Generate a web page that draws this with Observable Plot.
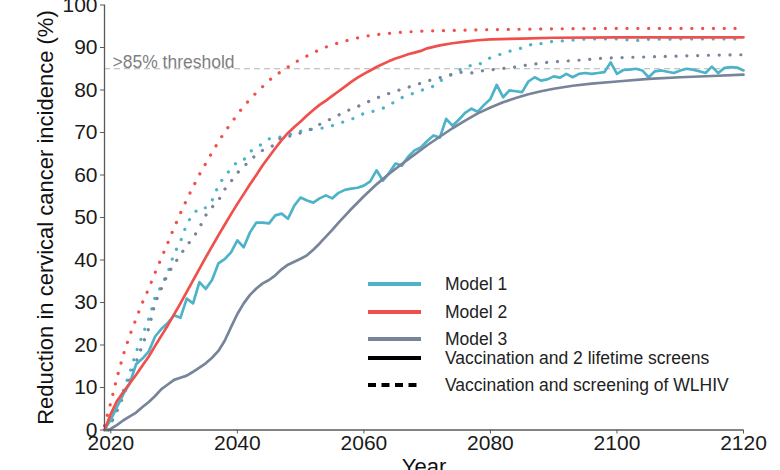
<!DOCTYPE html>
<html><head><meta charset="utf-8">
<script src="https://cdn.jsdelivr.net/npm/d3@7"></script>
<script src="https://cdn.jsdelivr.net/npm/@observablehq/plot@0.6"></script>
<style>
body{margin:0;background:#fff;}
#wrap{position:relative;width:780px;height:470px;overflow:hidden;background:#fff;}
#legend{position:absolute;left:0;top:0;pointer-events:none;}
</style></head><body><div id="wrap"></div>
<script>
// ---- tick labels ----
const xTicks = [2020, 2040, 2060, 2080, 2100, 2120];
const yTicks = [0, 10, 20, 30, 40, 50, 60, 70, 80, 90, 100];
const thresholdValue = 85;
const thresholdLabel = ">85% threshold";
const xLabel = "Year";
const yLabel = "Reduction in cervical cancer incidence (%)";

// ---- legend ----
const modelNames = ["Model 1", "Model 2", "Model 3"];
const modelColors = ["#4DB3C9", "#F0504C", "#77849A"];
const strategyNames = ["Vaccination and 2 lifetime screens", "Vaccination and screening of WLHIV"];

// ---- series: [year, reduction %] ----
// Model 1, vaccination + 2 lifetime screens
const model1Screens = [[2019,0],[2020,2.5],[2021,5.5],[2022,8.5],[2023,11],[2024,15.5],[2025,16.8],[2026,18.5],[2027,22],[2028,23.8],[2029,25.2],[2030,27],[2031,26.4],[2032,30.9],[2033,29.8],[2034,34.8],[2035,33.2],[2036,35.3],[2037,39.2],[2038,40.2],[2039,41.8],[2040,44.6],[2041,43],[2042,46.5],[2043,48.8],[2044,48.8],[2045,48.6],[2046,50.5],[2047,50.9],[2048,49.7],[2049,52.8],[2050,54.7],[2051,54],[2052,53.5],[2053,54.5],[2054,55.2],[2055,54.5],[2056,55.8],[2057,56.5],[2058,56.8],[2059,57],[2060,57.5],[2061,58.5],[2062,61.1],[2063,58.7],[2064,60.5],[2065,62.7],[2066,62.2],[2067,64.3],[2068,65.8],[2069,66.5],[2070,68],[2071,69.3],[2072,68.8],[2073,73.2],[2074,71.6],[2075,73],[2076,74.6],[2077,75.6],[2078,74.9],[2079,76.5],[2080,77.9],[2081,81.2],[2082,78.3],[2083,79.9],[2084,79.7],[2085,79.5],[2086,82],[2087,83],[2088,82.2],[2089,82.5],[2090,83.2],[2091,82.9],[2092,83.8],[2093,83],[2094,83.8],[2095,84],[2096,83.8],[2097,84],[2098,84.2],[2099,86.5],[2100,83.8],[2101,84.7],[2102,84.8],[2103,85],[2104,84.6],[2105,83],[2106,84.4],[2107,84.6],[2108,84.3],[2109,84],[2110,84.6],[2111,85],[2112,84.8],[2113,84.4],[2114,84],[2115,85.5],[2116,84],[2117,85.2],[2118,85.4],[2119,85.3],[2120,84.6]];
// Model 2, vaccination + 2 lifetime screens
const model2Screens = [[2019,0],[2020,3.8],[2021,6.9],[2022,9],[2023,11],[2024,13],[2025,15.2],[2026,17.3],[2027,19.8],[2028,22.2],[2029,24.6],[2030,27.2],[2031,29.8],[2032,32.5],[2033,35.2],[2034,37.9],[2035,40.6],[2036,43.2],[2037,45.8],[2038,48.3],[2039,50.8],[2040,53.2],[2041,55.5],[2042,57.8],[2043,60],[2044,62.3],[2045,64.3],[2046,66.3],[2047,68.2],[2048,69.9],[2049,71.3],[2050,72.6],[2051,74],[2052,75.3],[2053,76.5],[2054,77.5],[2055,78.6],[2056,79.7],[2057,80.8],[2058,81.9],[2059,82.9],[2060,83.8],[2061,84.6],[2062,85.4],[2063,86.1],[2064,86.8],[2065,87.4],[2066,87.9],[2067,88.4],[2068,88.8],[2069,89.2],[2070,89.8],[2072,90.5],[2074,91],[2076,91.4],[2078,91.7],[2080,91.9],[2085,92.1],[2090,92.3],[2100,92.4],[2110,92.4],[2120,92.4]];
// Model 3, vaccination + 2 lifetime screens
const model3Screens = [[2019.7,0],[2021,1.2],[2022,2.3],[2023,3.2],[2024,4.1],[2025,5.4],[2026,6.6],[2027,8],[2028,9.6],[2029,10.7],[2030,11.8],[2031,12.3],[2032,12.8],[2033,13.7],[2034,14.7],[2035,15.7],[2036,17],[2037,18.6],[2038,21],[2039,24.2],[2040,27.3],[2041,29.8],[2042,31.8],[2043,33.3],[2044,34.5],[2045,35.3],[2046,36.4],[2047,37.8],[2048,38.9],[2049,39.6],[2050,40.3],[2051,41.1],[2052,42.4],[2053,43.9],[2054,45.5],[2055,47.1],[2056,48.8],[2057,50.4],[2058,52],[2060,55],[2062,57.8],[2064,60.3],[2066,62.6],[2068,64.8],[2070,67],[2072,69],[2074,71],[2076,72.8],[2078,74.5],[2080,75.9],[2082,77.1],[2084,78.1],[2086,79],[2088,79.7],[2090,80.3],[2093,81],[2096,81.5],[2100,82],[2105,82.6],[2110,83],[2115,83.3],[2120,83.6]];
// Model 1, vaccination + screening of WLHIV
const model1Wlhiv = [[2019.3,0],[2020,1.5],[2021,5],[2022,9.3],[2023,13.5],[2024,18.3],[2025,22.3],[2026,26.2],[2027,31.2],[2028,34],[2029,37],[2030,41.5],[2031,44.3],[2032,48.5],[2033,50.8],[2034,52.3],[2035,52.3],[2036,54],[2037,57.5],[2038,59.8],[2039,61.4],[2040,63.2],[2041,63.5],[2042,65.5],[2043,66.4],[2044,67.4],[2045,68.5],[2046,68.7],[2047,69],[2048,69.4],[2049,69.9],[2050,70.3],[2051,70.6],[2052,70.8],[2053,71],[2054,71.1],[2055,71.6],[2056,72.1],[2057,72.6],[2058,73.1],[2059,73.7],[2060,74.5],[2061,74.8],[2062,75.2],[2063,75.7],[2064,76.5],[2065,77.3],[2066,78.2],[2067,78.8],[2068,79.3],[2069,79.9],[2070,80.3],[2071,80.9],[2072,82.1],[2073,82.9],[2074,83.8],[2075,84.6],[2076,85.4],[2077,85.8],[2078,85.8],[2079,86.8],[2080,87.6],[2081,88.1],[2082,88.6],[2083,89.1],[2084,89.5],[2085,89.9],[2086,90.4],[2087,91.1],[2088,90.9],[2089,91.2],[2090,91.5],[2092,91.6],[2094,91.9],[2096,92],[2100,92],[2103,91.6],[2104,91.9],[2110,92],[2120,92]];
// Model 2, vaccination + screening of WLHIV
const model2Wlhiv = [[2019,1],[2020,6.5],[2021,12.5],[2022,17.8],[2023,22.3],[2024,26.2],[2025,30],[2026,33.3],[2027,37],[2028,40.5],[2029,44],[2030,47.6],[2031,51],[2032,54.2],[2033,57.2],[2034,60.1],[2035,62.7],[2036,65.3],[2037,67.8],[2038,70.1],[2039,72.2],[2040,74.2],[2041,76.2],[2042,77.8],[2043,79.4],[2044,80.8],[2045,82.2],[2046,83.5],[2047,84.4],[2048,85.4],[2049,86.4],[2050,87.2],[2052,88.8],[2054,90.1],[2056,91.1],[2058,91.9],[2060,92.6],[2063,93.2],[2066,93.6],[2070,93.9],[2080,94.2],[2090,94.4],[2100,94.5],[2120,94.5]];
// Model 3, vaccination + screening of WLHIV
const model3Wlhiv = [[2019.6,0],[2020,1.5],[2021,4.6],[2022,8],[2023,12],[2024,16],[2025,20],[2026,23.9],[2027,29.9],[2028,33.3],[2029,36.7],[2030,39],[2031,41.2],[2032,43.4],[2033,45.2],[2034,47.6],[2035,50.5],[2036,52.4],[2037,54],[2038,56.6],[2039,58.5],[2040,60.5],[2041,62],[2042,63.4],[2043,64.8],[2044,65.8],[2045,66.4],[2046,67.2],[2047,69],[2048,69.1],[2049,69.3],[2050,69.9],[2051,70.4],[2052,71],[2053,71.9],[2054,72.6],[2055,73.4],[2056,74.1],[2057,74.9],[2058,75.5],[2059,76.1],[2060,76.8],[2062,78.1],[2064,79.2],[2066,80.2],[2068,81.1],[2070,82.1],[2072,82.9],[2074,83.7],[2075,84.2],[2077,84],[2079,84.6],[2081,84.9],[2083,85.2],[2085,85.7],[2087,86.1],[2089,86.5],[2091,86.7],[2094,87],[2097,87.4],[2100,87.6],[2105,87.8],[2110,88],[2115,88.2],[2120,88.3]];

const toRows = (pairs) => pairs.map(([year, value]) => ({year, value}));
const solidSeries = [model1Screens, model2Screens, model3Screens];
const dottedSeries = [model1Wlhiv, model2Wlhiv, model3Wlhiv];

const font = "'Liberation Sans', Arial, Helvetica, sans-serif";
const axisColor = "#5a5a5a";

const marks = [
  Plot.ruleY([thresholdValue], {stroke: "#b3b3b3", strokeWidth: 1.1, strokeDasharray: "6,4"}),
  Plot.text([thresholdLabel], {frameAnchor: "left", y: [thresholdValue], dx: 8, dy: -6, textAnchor: "start", lineAnchor: "middle", fontSize: 17.5, fill: "#7f7f7f"}),
];
dottedSeries.forEach((s, i) => {
  marks.push(Plot.line(toRows(s), {x: "year", y: "value", stroke: modelColors[i], strokeWidth: 3.2, strokeDasharray: "0.1,10.7", strokeLinecap: "round"}));
});
solidSeries.forEach((s, i) => {
  marks.push(Plot.line(toRows(s), {x: "year", y: "value", stroke: modelColors[i], strokeWidth: 2.7, strokeLinejoin: "round"}));
});
marks.push(
  Plot.ruleX([2019], {stroke: axisColor, strokeWidth: 1.3}),
  Plot.ruleY([0], {stroke: axisColor, strokeWidth: 1.3}),
  Plot.axisY({ticks: yTicks, tickSize: 4, tickPadding: 3, label: null, stroke: axisColor, tickFormat: d => String(d)}),
  Plot.axisX({ticks: xTicks, tickSize: 4, tickPadding: 1, label: null, stroke: axisColor, tickFormat: d => String(d)}),
  Plot.text([yLabel], {frameAnchor: "left", dx: -59, rotate: -90, textAnchor: "middle", lineAnchor: "middle", fontSize: 22, fill: "#111"}),
  Plot.text([xLabel], {frameAnchor: "bottom", dy: 28, textAnchor: "middle", lineAnchor: "top", fontSize: 22, fill: "#111"})
);

const chart = Plot.plot({
  width: 780, height: 470,
  marginLeft: 104, marginRight: 37, marginTop: 4.5, marginBottom: 40.5,
  x: {domain: [2019, 2120]},
  y: {domain: [0, 100]},
  style: {fontFamily: font, fontSize: "21px", color: "#1a1a1a", background: "white", overflow: "visible"},
  marks
});
const wrap = document.getElementById("wrap");
wrap.appendChild(chart);

// ---- legend overlay ----
const legendItems = [
  {label: modelNames[0], color: modelColors[0], dash: null, y: 284},
  {label: modelNames[1], color: modelColors[1], dash: null, y: 312},
  {label: modelNames[2], color: modelColors[2], dash: null, y: 339},
  {label: strategyNames[0], color: "#000", dash: null, y: 358},
  {label: strategyNames[1], color: "#000", dash: "8,5.5", y: 385}
];
const leg = d3.select(wrap).append("svg").attr("id", "legend").attr("width", 780).attr("height", 470);
const g = leg.selectAll("g").data(legendItems).join("g").attr("transform", d => `translate(368,${d.y})`);
g.append("line").attr("x1", 0).attr("x2", 53).attr("stroke", d => d.color).attr("stroke-width", 3.8)
  .attr("stroke-dasharray", d => d.dash);
g.append("text").attr("x", 77).attr("dy", "0.35em").attr("font-family", font).attr("font-size", 17.5)
  .attr("fill", "#222").text(d => d.label);
</script></body></html>
